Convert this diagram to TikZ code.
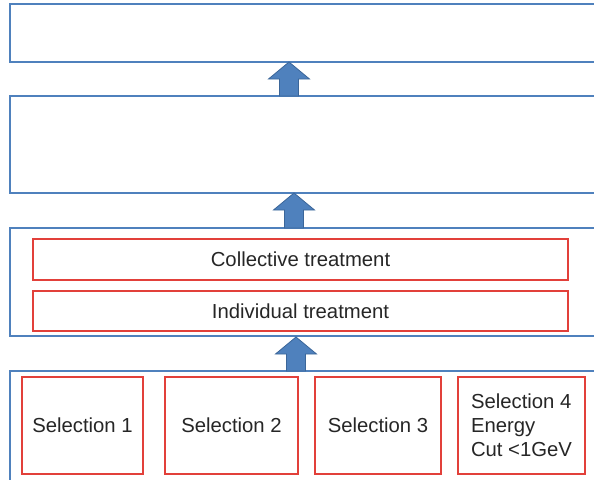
\documentclass[tikz,border=0pt]{standalone}
\usepackage{fontspec}
\setmainfont{Liberation Sans}
\usetikzlibrary{calc}
\definecolor{bluebox}{HTML}{4F81BD}
\definecolor{blueedge}{HTML}{3B6699}
\definecolor{redbox}{HTML}{E2403A}
\tikzset{
  layer/.style={draw=bluebox, line width=1.8pt},
  redrect/.style={draw=redbox, line width=1.3pt, font=\fontsize{20.3}{24}\selectfont, text=black!85, inner sep=0pt, align=left},
  uparrow/.style={fill=bluebox, draw=blueedge, line width=0.8pt, line join=miter}
}
\newcommand{\myuparrow}[3]{% center x, bottom y, top y
  \draw[uparrow] (#1-9.5,#2) -- (#1-9.5,#3+17) -- (#1-20.5,#3+17) -- (#1,#3) -- (#1+20.5,#3+17) -- (#1+9.5,#3+17) -- (#1+9.5,#2) -- cycle;}
\begin{document}
\begin{tikzpicture}[x=1pt,y=-1pt]
\useasboundingbox (0,0) rectangle (594,479);
\begin{scope}
\clip (0,0) rectangle (594,479);
% blue layers (open to the right / bottom)
\draw[layer] (620,4) -- (10,4) -- (10,62) -- (620,62);
\draw[layer] (620,96) -- (10,96) -- (10,193) -- (620,193);
\draw[layer] (620,228) -- (10,228) -- (10,336) -- (620,336);
\draw[layer] (620,371) -- (10,371) -- (10,500);
\end{scope}
% arrows between layers
\myuparrow{289}{96}{62}
\myuparrow{294}{228}{193}
\myuparrow{296}{371}{337}
% red boxes
\node[redrect, minimum width=535pt, minimum height=41pt] (coll) at (300.5,259.5) {Collective treatment};
\node[redrect, minimum width=535pt, minimum height=40pt] (indiv) at (300.5,311) {Individual treatment};
\node[redrect, minimum width=121pt, minimum height=97pt] (s1) at (82.5,425.5) {Selection 1};
\node[redrect, minimum width=133pt, minimum height=97pt] (s2) at (231.5,425.5) {Selection 2};
\node[redrect, minimum width=126pt, minimum height=97pt] (s3) at (378,425.5) {Selection 3};
\node[redrect, minimum width=127pt, minimum height=97pt] (s4) at (521.5,425.5) {Selection 4\\Energy\\Cut <1GeV};
\end{tikzpicture}
\end{document}
